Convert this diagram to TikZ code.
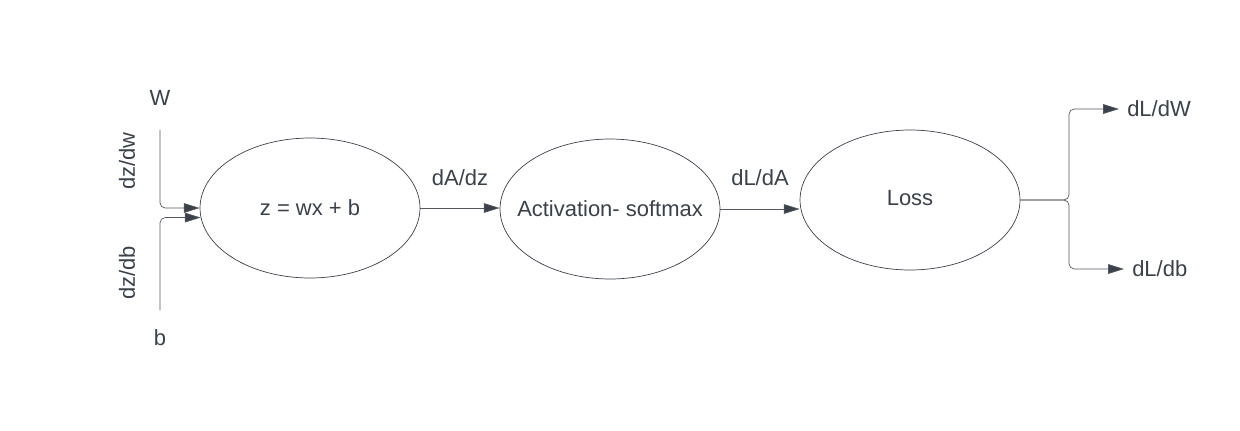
\documentclass[tikz,border=0pt]{standalone}
\usepackage{fontspec}
\setmainfont{Liberation Sans}
\usetikzlibrary{shapes.geometric,arrows.meta}
\definecolor{inkgray}{HTML}{3A414A}
\definecolor{wiregray}{HTML}{55595F}
\tikzset{
    blob/.style={draw=inkgray, ellipse, minimum width=4.4cm, minimum height=2.8cm, inner sep=0pt, text=inkgray},
    lbl/.style={text=inkgray},
    link/.style={draw=wiregray, -{Triangle[length=9pt,width=5.5pt,fill=inkgray]}, rounded corners=3pt}
}
\begin{document}
\begin{tikzpicture}[x=0.02cm, y=-0.02cm, font=\fontsize{12.5}{15}\selectfont]
    \useasboundingbox (0,0) rectangle (1240,430);

    \node[blob] (lin) at (310,208) {z = wx + b};
    \node[blob] (act) at (610,209) {\makebox[0pt]{Activation- softmax}};
    \node[blob] (loss) at (910,200) {\raisebox{2pt}{Loss}};

    \node[lbl] (w) at (160,98) {W};
    \node[lbl] (b) at (160,338) {b};
    \node[lbl, rotate=90] (dzdw) at (127,161) {dz/dw};
    \node[lbl, rotate=90] (dzdb) at (127,273) {dz/db};
    \node[lbl] (dadz) at (460,178) {dA/dz};
    \node[lbl] (dlda) at (760,178) {dL/dA};
    \node[lbl, anchor=west, inner sep=4.5pt] (dldw) at (1119,109) {dL/dW};
    \node[lbl, anchor=west, inner sep=4.5pt] (dldb) at (1124,269) {dL/db};

    \coordinate (wtop) at (160,130);
    \coordinate (bbot) at (160,310);
    \coordinate (fork) at (1069,200);

    \draw[link] (wtop) |- (lin.west);
    \draw[link] (bbot) |- (lin.185);
    \draw[link] (lin.east) -- (lin.east -| act.west);
    \draw[link] (act.east) -- (act.east -| loss.west);
    \draw[link] (loss.east) -- (fork) |- (dldw.west);
    \draw[link] (loss.east) -- (fork) |- (dldb.west);
\end{tikzpicture}
\end{document}
